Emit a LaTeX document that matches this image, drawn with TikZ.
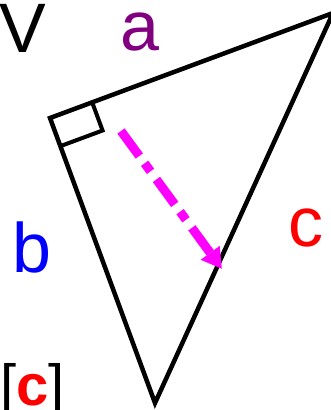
\documentclass[tikz,border=0pt]{standalone}
\usepackage{fontspec}
\setmainfont{Liberation Sans}
\usetikzlibrary{arrows.meta,calc}
\definecolor{sidepurple}{RGB}{128,0,128}
\definecolor{sideblue}{RGB}{0,0,255}
\definecolor{sidered}{RGB}{255,0,0}
\definecolor{guidemagenta}{RGB}{255,0,255}
\tikzset{
    side/.style={draw=black, line width=4.5pt, line join=miter},
    corner/.style={draw=black, line width=4pt},
    sidename/.style={inner sep=0pt, anchor=base,
                     font=\fontsize{70}{84}\selectfont},
    tag/.style={inner sep=0pt, anchor=base west,
                font=\fontsize{58}{70}\selectfont},
    guide/.style={draw=guidemagenta, line width=9pt,
                  dash pattern=on 31pt off 9pt on 10pt off 10pt,
                  -{Triangle[length=20pt,width=22pt]}},
}

\begin{document}
\begin{tikzpicture}[x=1pt,y=-1pt]

    \useasboundingbox (0,0) rectangle (331,410);

    \coordinate (rt) at (50,118);
    \coordinate (top) at (333,13);
    \coordinate (bot) at (155,403);
    \draw[side] (rt) -- (top) -- (bot) -- cycle;

    % right angle mark
    \coordinate (sq1) at ($(rt)!45pt!(top)$);
    \coordinate (sq3) at ($(rt)!30pt!(bot)$);
    \coordinate (sq2) at ($(sq1)+(sq3)-(rt)$);
    \draw[corner] (sq1) -- (sq2) -- (sq3);

    \coordinate (from) at (121,131);
    \coordinate (to) at (222,269);
    \draw[guide] (from) -- (to);

    \node[sidename] (v) at (23,52) {V};
    \node[sidename, text=sidepurple] (a) at (140,50) {a};
    \node[sidename, text=sideblue] (b) at (32,272) {b};
    \node[sidename, text=sidered] (c) at (306,246) {c};
    \node[tag] (cc) at (0,405) {[\textbf{\textcolor{sidered}{c}}]};

\end{tikzpicture}
\end{document}
